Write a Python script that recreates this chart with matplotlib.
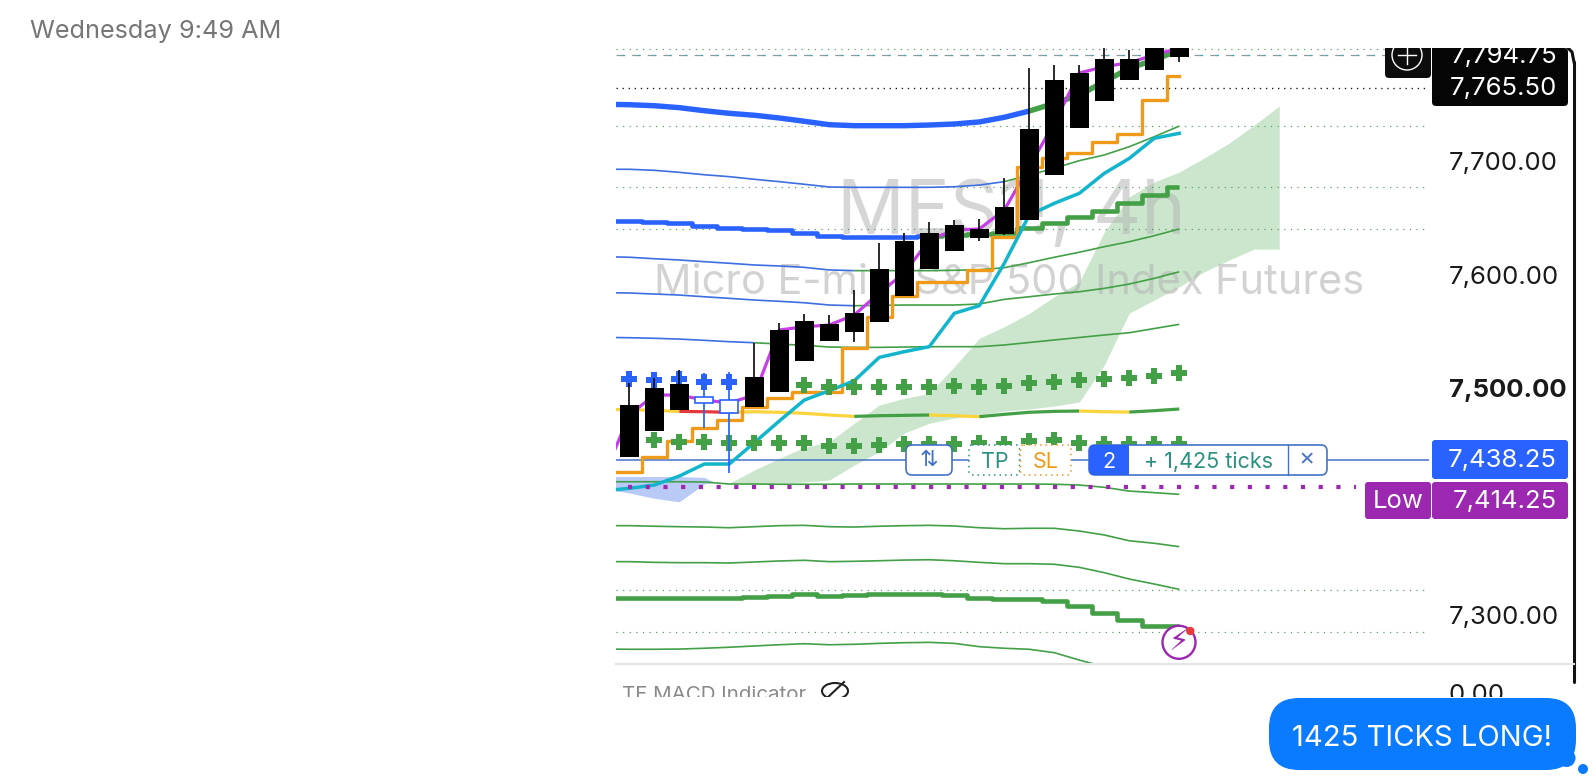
"""
MES 4h chart screenshot inside a message thread
"""
import matplotlib
matplotlib.use('Agg')
import matplotlib.pyplot as plt
from matplotlib.patches import Circle, Ellipse, FancyBboxPatch, Rectangle

plt.rcParams['font.family'] = ['Inter', 'DejaVu Sans']

# candles, index 0..22
candle_x = list(range(23))
opens = [7439.5, 7462.1, 7480.6, 7487.1, 7478.0, 7483.3, 7496.5, 7523.8, 7541.2, 7549.1, 7558.2, 7581.3,
         7604.6, 7620.4, 7632.2, 7636.0, 7647.8, 7687.7, 7729.1, 7752.6, 7771.4, 7780.4, 7791.4]
closes = [7485.0, 7500.0, 7503.5, 7492.1, 7489.4, 7509.7, 7551.1, 7559.0, 7556.7, 7566.4, 7605.1, 7629.5,
          7636.8, 7643.6, 7640.1, 7659.5, 7728.5, 7771.4, 7777.3, 7789.9, 7789.9, 7805.0, 7802.0]
highs = [7504.4, 7508.8, 7515.9, 7513.2, 7514.1, 7539.7, 7557.3, 7565.2, 7564.3, 7586.4, 7627.8, 7636.8,
         7646.0, 7648.0, 7648.6, 7684.8, 7781.9, 7784.8, 7784.8, 7805.0, 7797.8, 7810.0, 7810.0]
lows = [7439.5, 7462.1, 7480.6, 7464.8, 7425.1, 7483.3, 7496.5, 7523.8, 7541.2, 7540.8, 7558.2, 7581.3,
        7604.6, 7620.4, 7629.8, 7634.8, 7647.8, 7687.7, 7729.1, 7752.6, 7771.4, 7780.4, 7787.2]
hollow = [3, 4]

# indicator lines, index -1..22
line_x = list(range(-1, 23))
magenta = [7423.4, 7476.2, 7493.8, 7493.8, 7489.4, 7486.8, 7493.8, 7551.1, 7554.0, 7555.5, 7564.3, 7583.7,
           7601.3, 7630.4, 7639.2, 7640.1, 7656.8, 7695.0, 7733.5, 7777.5, 7783.1, 7786.6, 7793.4, 7799.5]
mid_ma = [7481.2, 7480.9, 7480.3, 7479.4, 7479.1, 7478.6, 7479.1, 7478.6, 7477.7, 7476.2, 7475.0, 7475.6,
          7475.9, 7476.2, 7475.6, 7474.7, 7476.8, 7478.6, 7479.4, 7479.7, 7479.1, 7478.8, 7480.0, 7481.5]
stair = [7426.3, 7426.3, 7438.9, 7453.6, 7464.5, 7471.8, 7483.5, 7491.4, 7496.2, 7496.2, 7535.0, 7562.8,
         7581.0, 7593.6, 7593.6, 7604.0, 7633.3, 7695.0, 7702.3, 7706.7, 7716.4, 7723.5, 7753.7, 7774.8]
cyan = [7409.5, 7411.6, 7414.5, 7422.4, 7433.0, 7433.0, 7451.8, 7470.9, 7489.4, 7497.6, 7506.4, 7527.0,
        7532.0, 7536.4, 7565.8, 7572.5, 7609.8, 7652.4, 7662.7, 7671.5, 7689.1, 7702.3, 7720.0, 7724.4]
ma_top = [7750.0, 7749.6, 7748.7, 7747.0, 7744.3, 7742.0, 7740.3, 7737.9, 7735.0, 7732.0, 7731.1, 7731.1,
          7731.1, 7731.7, 7732.6, 7734.4, 7738.5, 7744.0, 7750.8, 7758.1, 7769.9, 7781.7, 7789.0, 7797.8]
band1 = [7692.7, 7692.7, 7691.8, 7690.0, 7687.9, 7686.2, 7683.9, 7681.8, 7679.5, 7677.1, 7676.8, 7676.8,
         7676.8, 7676.8, 7677.3, 7678.8, 7681.8, 7687.6, 7693.6, 7700.3, 7705.3, 7712.6, 7721.4, 7730.8]
basis = [7646.8, 7646.8, 7646.2, 7645.1, 7642.7, 7641.2, 7640.1, 7638.9, 7636.8, 7633.9, 7633.0, 7633.0,
         7633.3, 7633.9, 7634.8, 7635.4, 7636.8, 7641.2, 7645.6, 7650.9, 7656.2, 7662.7, 7670.0, 7677.3]
band2 = [7615.7, 7615.2, 7613.9, 7612.8, 7611.3, 7609.9, 7608.4, 7607.5, 7606.3, 7604.0, 7603.4, 7603.4,
         7603.4, 7603.4, 7603.7, 7604.2, 7606.0, 7610.4, 7615.2, 7619.6, 7624.5, 7628.9, 7634.2, 7640.1]
band3 = [7584.0, 7583.7, 7582.8, 7581.9, 7580.4, 7579.0, 7577.5, 7576.4, 7575.1, 7573.1, 7572.5, 7572.8,
         7573.1, 7573.1, 7573.1, 7574.0, 7578.1, 7580.4, 7582.8, 7584.8, 7587.8, 7591.6, 7596.6, 7602.4]
band4 = [7544.6, 7544.3, 7543.8, 7543.1, 7542.0, 7540.8, 7539.9, 7538.7, 7537.6, 7536.1, 7535.8, 7535.8,
         7536.1, 7536.4, 7536.4, 7536.4, 7537.9, 7540.1, 7542.3, 7544.5, 7546.7, 7548.7, 7552.4, 7556.1]
band5 = [7417.4, 7417.4, 7417.4, 7417.4, 7417.2, 7415.4, 7415.4, 7415.2, 7415.2, 7415.2, 7415.4, 7415.4,
         7415.4, 7415.4, 7415.4, 7415.4, 7415.4, 7415.4, 7415.2, 7414.5, 7412.5, 7409.2, 7407.8, 7406.3]
band6 = [7378.7, 7378.7, 7378.2, 7377.8, 7377.5, 7376.9, 7377.8, 7378.7, 7379.0, 7377.8, 7377.5, 7378.2,
         7378.7, 7379.0, 7378.4, 7376.9, 7376.0, 7376.4, 7376.4, 7374.0, 7370.5, 7365.4, 7363.2, 7360.2]
band7 = [7347.0, 7347.0, 7346.4, 7346.1, 7346.1, 7345.8, 7346.7, 7347.6, 7348.2, 7347.0, 7347.3, 7347.8,
         7348.4, 7348.7, 7347.8, 7346.4, 7345.2, 7345.2, 7344.7, 7342.0, 7337.3, 7331.7, 7327.3, 7322.6]
band8 = [7315.3, 7315.3, 7314.7, 7314.7, 7315.3, 7314.7, 7316.1, 7317.0, 7318.2, 7316.7, 7317.4, 7318.2,
         7318.5, 7318.8, 7317.6, 7314.7, 7314.4, 7314.4, 7312.6, 7308.0, 7302.0, 7295.6, 7290.3, 7290.3]
band9 = [7270.0, 7269.8, 7269.8, 7270.0, 7270.7, 7271.6, 7272.7, 7273.8, 7274.7, 7273.8, 7274.2, 7275.0,
         7275.6, 7275.9, 7275.0, 7272.1, 7270.7, 7269.8, 7266.8, 7260.3, 7254.4]

# clouds
cloud_x = list(range(4, 27))
cloud_top = [7416.0, 7427.7, 7438.0, 7447.7, 7452.7, 7468.9, 7485.0, 7490.9, 7495.3, 7518.7, 7543.8, 7554.0,
             7565.8, 7580.4, 7593.4, 7637.4, 7668.3, 7681.5, 7690.3, 7702.6, 7715.8, 7731.7, 7748.4]
cloud_bot = [7415.8, 7415.8, 7416.3, 7417.2, 7418.9, 7432.1, 7443.8, 7460.3, 7468.9, 7473.5, 7476.2, 7479.7,
             7481.5, 7484.1, 7487.6, 7520.2, 7566.0, 7577.5, 7589.2, 7602.4, 7612.8, 7622.4, 7622.4]
blue_cloud_x = [-1, 0, 1, 2, 3, 3.4]
blue_cloud_top = [7422.0, 7422.0, 7422.0, 7422.0, 7421.2, 7417.0]
blue_cloud_bot = [7411.0, 7407.5, 7402.8, 7399.8, 7415.4, 7417.0]

# plus signals
blue_plus_x = [0, 1, 2, 3, 4]
blue_plus = [7507.9, 7507.0, 7507.6, 7505.0, 7505.0]
upper_plus_x = list(range(7, 23))
upper_plus = [7502.7, 7501.2, 7500.6, 7501.2, 7501.2, 7501.2, 7501.8, 7501.2, 7502.0, 7504.2, 7505.5, 7507.0,
              7507.9, 7508.6, 7510.8, 7513.0]
lower_plus_x = list(range(1, 23))
lower_plus = [7454.2, 7452.7, 7452.7, 7451.3, 7451.3, 7451.3, 7451.3, 7449.1, 7449.1, 7449.8, 7450.4, 7450.4,
              7450.4, 7451.3, 7450.7, 7453.6, 7454.2, 7451.8, 7450.7, 7450.4, 7450.4, 7450.4]

# horizontal levels
green_levels = [7798.7, 7730.5, 7677.3, 7640.5, 7322.0, 7285.3]
dotted_level = 7764.0
dashed_level = 7793.4
entry_level = 7437.0
low_level = 7413.0

# price axis and labels
axis_ticks = [7700, 7600, 7500, 7300]
axis_labels = ['7,700.00', '7,600.00', '7,500.00', '7,300.00']
last_price = '7,794.75'
close_price = '7,765.50'
entry_price = '7,438.25'
low_price = '7,414.25'

COLOR_BLUE = '#2962FF'
COLOR_THIN_BLUE = '#3D6FE0'
COLOR_GREEN = '#43A047'
COLOR_YELLOW = '#FBD33A'
COLOR_RED = '#E5383B'
COLOR_ORANGE = '#F09A1A'
COLOR_CYAN = '#12B5CB'
COLOR_MAGENTA = '#C63FE6'
COLOR_PURPLE = '#9C27B0'
COLOR_LINE = '#4472C8'
COLOR_TEAL = '#2A9080'
COLOR_BUBBLE = '#0A7AFF'

W, H = 1596, 784
LEFT, RIGHT, TOP, BOTTOM = 616, 1429, 48, 664


def draw_segments(ax, x, y, parts, lw, zorder, **kwargs):
    """Draw one series in pieces of different colour: parts = (first_x, last_x, colour)"""
    for first, last, color in parts:
        xs = [v for v in x if first <= v <= last]
        ys = [b for a, b in zip(x, y) if first <= a <= last]
        ax.plot(xs, ys, color=color, lw=lw, zorder=zorder, solid_capstyle='butt', **kwargs)


def draw_box(ov, x0, y0, x1, y1, face, edge='none', lw=0.0, radius=3, ls='-', zorder=5):
    """Rounded box in pixel coordinates"""
    box = FancyBboxPatch((x0, y0), x1 - x0, y1 - y0, boxstyle=f'round,pad=0,rounding_size={radius}',
                         facecolor=face, edgecolor=edge, linewidth=lw, linestyle=ls, zorder=zorder)
    ov.add_patch(box)
    return box


fig = plt.figure(figsize=(W / 100, H / 100), dpi=100, facecolor='white')

ax = fig.add_axes([LEFT / W, 1 - BOTTOM / H, (RIGHT - LEFT) / W, (BOTTOM - TOP) / H])
ax.set_xlim(-0.532, 31.99)
ax.set_ylim(7256.83, 7799.56)
for side in ax.spines.values():
    side.set_visible(False)
ax.set_xticks([])
ax.yaxis.tick_right()
ax.set_yticks(axis_ticks)
ax.set_yticklabels(axis_labels, fontsize=18.5, color='#1a1a1a')
ax.tick_params(axis='y', length=0, pad=14.4)
for label in ax.get_yticklabels():
    label.set_ha('left')
    if label.get_text() == '7,500.00':
        label.set_fontweight('bold')

# clouds
ax.fill_between(cloud_x, cloud_bot, cloud_top, color='#CBE6CC', lw=0, zorder=1)
ax.fill_between(blue_cloud_x, blue_cloud_bot, blue_cloud_top, color='#B9CAF6', lw=0, zorder=1)

# watermark
ax.text(15.27, 7653.0, 'MES1!, 4h', fontsize=54, color='#B5B5B5', alpha=0.55, ha='center', va='center', zorder=1.5)
ax.text(15.2, 7592.5, 'Micro E-mini S&P 500 Index Futures', fontsize=29.9, color='#B5B5B5', alpha=0.6,
        ha='center', va='center', zorder=1.5)

# levels
for level in green_levels:
    ax.axhline(level, color='#4E9A5A', lw=0.85, ls=(0, (1, 4.6)), zorder=2)
ax.axhline(dotted_level, color='#111111', lw=0.95, ls=(0, (1, 3.6)), zorder=2)
ax.axhline(dashed_level, color='#8F9A9A', lw=0.9, ls=(0, (7, 5.5)), zorder=2)
ax.axhline(dashed_level, color='#2FB0C0', lw=0.9, ls=(7.5, (1.5, 11)), zorder=2)
ax.axhline(entry_level, color=COLOR_LINE, lw=1.1, zorder=2)
ax.plot([-0.05, 29.07], [low_level, low_level], color=COLOR_PURPLE, lw=3.0, ls=(0, (1, 3.25)),
        dash_capstyle='butt', zorder=6)

# thin bands
thin = {'lw': 1.2, 'zorder': 3}
draw_segments(ax, line_x, band1, [(-1, 15, COLOR_THIN_BLUE), (15, 22, COLOR_GREEN)], **thin)
draw_segments(ax, line_x, band2, [(-1, 9, COLOR_THIN_BLUE), (9, 22, COLOR_GREEN)], **thin)
draw_segments(ax, line_x, band3, [(-1, 9, COLOR_THIN_BLUE), (9, 22, COLOR_GREEN)], **thin)
draw_segments(ax, line_x, band4, [(-1, 5, COLOR_THIN_BLUE), (5, 22, COLOR_GREEN)], **thin)
draw_segments(ax, line_x, band5, [(-1, 22, COLOR_GREEN)], **thin)
draw_segments(ax, line_x, band6, [(-1, 22, COLOR_GREEN)], **thin)
draw_segments(ax, line_x, band7, [(-1, 22, COLOR_GREEN)], **thin)
ax.plot(line_x[:len(band9)], band9, color=COLOR_GREEN, lw=1.2, zorder=3)

# thick lines
draw_segments(ax, line_x, ma_top, [(-1, 16, COLOR_BLUE), (16, 22, COLOR_GREEN)], lw=3.9, zorder=3.2)
draw_segments(ax, line_x, basis, [(-1, 12, COLOR_BLUE), (12, 22, COLOR_GREEN)], lw=3.3, zorder=3.2,
              drawstyle='steps-mid')
ax.plot(line_x, band8, color=COLOR_GREEN, lw=3.3, zorder=3.2, drawstyle='steps-mid', solid_capstyle='butt')

# moving averages
draw_segments(ax, line_x, mid_ma, [(-1, 2, COLOR_YELLOW), (2, 4, COLOR_RED), (4, 9, COLOR_YELLOW),
                                   (9, 12, COLOR_GREEN), (12, 14, COLOR_YELLOW), (14, 18, COLOR_GREEN),
                                   (18, 20, COLOR_YELLOW), (20, 22, COLOR_GREEN)], lw=2.3, zorder=3.4)
ax.plot(line_x, magenta, color=COLOR_MAGENTA, lw=2.3, zorder=3.5)
ax.plot(line_x, stair, color=COLOR_ORANGE, lw=2.4, zorder=3.6, drawstyle='steps-mid')
ax.plot(line_x, cyan, color=COLOR_CYAN, lw=2.5, zorder=3.7)

# plus signals
plus = {'marker': 'P', 'ls': 'none', 'ms': 11, 'mew': 0, 'zorder': 4}
ax.plot(upper_plus_x, upper_plus, color=COLOR_GREEN, **plus)
ax.plot(lower_plus_x, lower_plus, color=COLOR_GREEN, **plus)
ax.plot(blue_plus_x, blue_plus, color=COLOR_BLUE, **plus)

# candles
for i, o, c, h, l in zip(candle_x, opens, closes, highs, lows):
    edge = COLOR_BLUE if i in hollow else 'black'
    ax.plot([i, i], [l, h], color=edge if i in hollow else '#111111', lw=1.25, zorder=4.5, solid_capstyle='butt')
    ax.bar(i, abs(c - o), bottom=min(o, c), width=0.78 if i not in hollow else 0.72,
           facecolor='white' if i in hollow else 'black', edgecolor=edge,
           linewidth=1.2 if i in hollow else 0, zorder=5)

# pixel layer for the app chrome
ov = fig.add_axes([0, 0, 1, 1], facecolor='none')
ov.set_xlim(0, W)
ov.set_ylim(H, 0)
ov.axis('off')

ov.text(30.5, 31, 'Wednesday 9:49 AM', fontsize=18.2, color='#767676', ha='left', va='center')

# chart clip for things that run off the screenshot
chart_clip = Rectangle((0, 48), W, 649, transform=ov.transData)

ov.plot([1574, 1574], [62, 682], color='#111111', lw=2.2, solid_capstyle='round', zorder=3)
ov.plot([1568, 1572, 1574], [48, 52, 62], color='#111111', lw=2.2, zorder=3)
ov.plot([LEFT, 1574], [664, 664], color='#E4E4E4', lw=1.5, zorder=3)

# plus button and black price tags
draw_box(ov, 1385, 40, 1431, 78, '#0d0d0d', radius=4)
ov.add_patch(Circle((1407, 55), 15, facecolor='none', edgecolor='white', lw=1.0, zorder=6))
ov.plot([1398, 1416], [55, 55], color='white', lw=1.0, zorder=6)
ov.plot([1407, 1407], [46, 64], color='white', lw=1.0, zorder=6)
draw_box(ov, 1432, 48, 1568, 106, '#050505', radius=4)
ov.add_patch(Rectangle((1432, 40), 132, 14, facecolor='#050505', lw=0, zorder=5))
top_tag = ov.text(1557, 56, last_price, fontsize=18.5, color='white', ha='right', va='center', zorder=6,
                  clip_on=True)
top_tag.set_clip_path(chart_clip)
ov.text(1557, 88.5, close_price, fontsize=18.5, color='white', ha='right', va='center', zorder=6)

# white mask above the chart
ov.add_patch(Rectangle((1380, 0), 200, 48, facecolor='white', lw=0, zorder=5.5))

# position tags
draw_box(ov, 1432, 440, 1568, 479, COLOR_BLUE, radius=3)
ov.text(1557, 460.5, entry_price, fontsize=18.5, color='white', ha='right', va='center', zorder=6)
draw_box(ov, 1365, 482, 1431, 519, COLOR_PURPLE, radius=3)
ov.text(1398, 501.5, 'Low', fontsize=18.5, color='white', ha='center', va='center', zorder=6)
draw_box(ov, 1432, 482, 1568, 519, COLOR_PURPLE, radius=3)
ov.text(1557, 501.5, low_price, fontsize=18.5, color='white', ha='right', va='center', zorder=6)

# order line widgets
draw_box(ov, 906, 445, 952, 475, 'white', edge=COLOR_LINE, lw=1.2, radius=6)
ov.text(929, 460, '⇅', fontsize=16, color=COLOR_LINE, ha='center', va='center', zorder=6,
        family=['DejaVu Sans'])
draw_box(ov, 969, 445, 1019.5, 475, 'white', edge=COLOR_TEAL, lw=1.1, radius=3, ls=(0, (1, 2.6)))
ov.text(995, 461.5, 'TP', fontsize=15.5, color=COLOR_TEAL, ha='center', va='center', zorder=6)
draw_box(ov, 1020.5, 445, 1071, 475, 'white', edge=COLOR_ORANGE, lw=1.1, radius=3, ls=(0, (1, 2.6)))
ov.text(1046, 461.5, 'SL', fontsize=15.5, color=COLOR_ORANGE, ha='center', va='center', zorder=6)
draw_box(ov, 1089, 445, 1327, 475, 'white', edge=COLOR_LINE, lw=1.2, radius=6)
draw_box(ov, 1089, 445, 1129, 475, COLOR_BLUE, radius=5, zorder=5.5)
ov.add_patch(Rectangle((1115, 445), 14, 30, facecolor=COLOR_BLUE, lw=0, zorder=5.5))
ov.text(1109, 461.5, '2', fontsize=15.5, color='white', ha='center', va='center', zorder=6)
ov.text(1208, 461.5, '+ 1,425 ticks', fontsize=15.5, color=COLOR_TEAL, ha='center', va='center', zorder=6)
ov.plot([1287.5, 1287.5], [445, 475], color=COLOR_LINE, lw=1.0, zorder=6)
ov.text(1307, 460, '✕', fontsize=14, color=COLOR_LINE, ha='center', va='center', zorder=6,
        family=['DejaVu Sans'])

# alert icon
ov.add_patch(Circle((1179, 642.3), 16.5, facecolor='white', edgecolor=COLOR_PURPLE, lw=1.7, zorder=6))
ov.text(1179, 642, '⚡', fontsize=21, color=COLOR_PURPLE, ha='center', va='center', zorder=7,
        family=['DejaVu Sans'])
ov.add_patch(Circle((1190.3, 631), 4.2, facecolor='#E83B3B', edgecolor='none', zorder=7))

# lower pane stub, cut off by the bubble row
macd = ov.text(622, 695, 'TF MACD Indicator', fontsize=14.8, color='#8A8A8A', ha='left', va='center', clip_on=True)
macd.set_clip_path(chart_clip)
eye = Ellipse((835, 691), 26, 16, facecolor='none', edgecolor='#222222', lw=1.5)
ov.add_patch(eye)
eye.set_clip_path(chart_clip)
slash, = ov.plot([826, 844], [699, 682], color='#222222', lw=1.5)
slash.set_clip_path(chart_clip)
zero = ov.text(1449, 696, '0.00', fontsize=18.5, color='#1a1a1a', ha='left', va='center', clip_on=True)
zero.set_clip_path(chart_clip)

# message bubble
draw_box(ov, 1269, 698, 1576, 770, COLOR_BUBBLE, radius=30, zorder=5)
ov.add_patch(Circle((1566.5, 758), 9, facecolor=COLOR_BUBBLE, edgecolor='none', zorder=5))
ov.add_patch(Circle((1583, 769), 5, facecolor=COLOR_BUBBLE, edgecolor='none', zorder=5))
ov.text(1422, 738, '1425 TICKS LONG!', fontsize=21, color='white', ha='center', va='center', zorder=6)

fig.savefig('out.png', dpi=100, facecolor='white')
plt.close(fig)
